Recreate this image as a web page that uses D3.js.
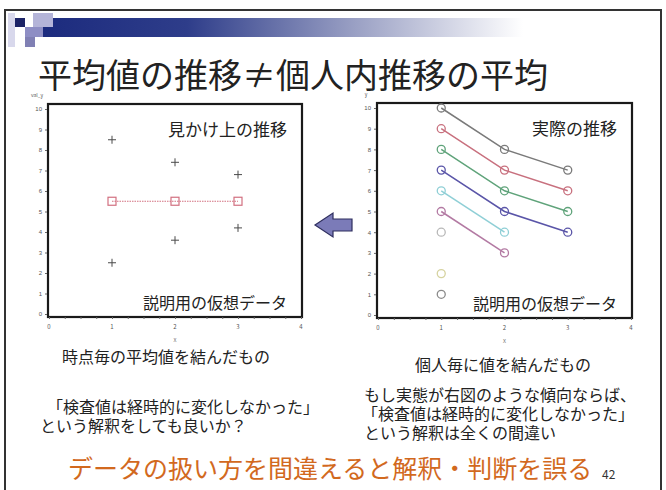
<!DOCTYPE html>
<html>
<head>
<meta charset="utf-8">
<script src="https://cdn.jsdelivr.net/npm/d3@7"></script>
<style>
  body { margin: 0; background: #fff; }
  svg { display: block; font-family: "Noto Sans CJK JP", "Noto Sans", sans-serif; }
</style>
</head>
<body>
<div id="slide"></div>
<script>
'use strict';

// tick labels
var xTicks = [0, 1, 2, 3, 4];
var yTicks = [0, 1, 2, 3, 4, 5, 6, 7, 8, 9, 10];

// left panel: observed values per time point, and their mean
var times = [1, 2, 3];
var upperObs = [8.5, 7.4, 6.8];
var lowerObs = [2.5, 3.6, 4.2];
var meanObs = [5.5, 5.5, 5.5];

// right panel: one series per individual
var personA = [10, 8, 7];
var personB = [9, 7, 6];
var personC = [8, 6, 5];
var personD = [7, 5, 4];
var personE = [6, 4];
var personF = [5, 3];
var personG = [4];
var personH = [2];
var personI = [1];
var persons = [personA, personB, personC, personD, personE, personF, personG, personH, personI];
var personColors = ['#7a7a7a', '#c8707e', '#5fa37a', '#5a55a8', '#8fcfd6', '#b37aa3', '#b8b8b8', '#d6d3a0', '#8a8a8a'];

var W = 666, H = 490;

var svg = d3.select('#slide')
    .append('svg')
    .attr('width', W)
    .attr('height', H);

// header decoration
var grad = svg.append('defs').append('linearGradient')
    .attr('id', 'bar').attr('x1', '0%').attr('x2', '100%');
grad.append('stop').attr('offset', '0%').attr('stop-color', '#1c2b7e');
grad.append('stop').attr('offset', '30%').attr('stop-color', '#2e3d8a');
grad.append('stop').attr('offset', '65%').attr('stop-color', '#9aa0c4');
grad.append('stop').attr('offset', '100%').attr('stop-color', '#ffffff');

svg.append('rect').attr('x', 43).attr('y', 18).attr('width', 480).attr('height', 19).attr('fill', 'url(#bar)');

var blocks = [
    { x: 8, y: 13, w: 7, h: 34, c: '#d8d8ec' },
    { x: 33, y: 13, w: 20, h: 14, c: '#b4b4d8' },
    { x: 25, y: 27, w: 18, h: 10, c: '#8e8ec4' },
    { x: 25, y: 37, w: 10, h: 10, c: '#8080b4' },
    { x: 15, y: 18, w: 10, h: 9, c: '#1c2366' }
];
svg.selectAll('.block')
    .data(blocks)
    .enter().append('rect')
    .attr('class', 'block')
    .attr('x', function (d) { return d.x; })
    .attr('y', function (d) { return d.y; })
    .attr('width', function (d) { return d.w; })
    .attr('height', function (d) { return d.h; })
    .attr('fill', function (d) { return d.c; });

// slide frame
svg.append('rect')
    .attr('x', 5).attr('y', 10).attr('width', 656).attr('height', 490)
    .attr('fill', 'none').attr('stroke', '#333').attr('stroke-width', 2);

svg.append('text')
    .attr('x', 38).attr('y', 88)
    .attr('font-size', 34)
    .attr('fill', '#222')
    .text('平均値の推移≠個人内推移の平均');

function panel(opt) {
    var x = d3.scaleLinear().domain([0, 4]).range([opt.x0, opt.x1]);
    var y = d3.scaleLinear().domain([0, 10]).range([opt.y0, opt.y1]);
    var g = svg.append('g');

    g.append('rect')
        .attr('x', opt.x0 - 1).attr('y', opt.y1 - 5)
        .attr('width', opt.x1 - opt.x0 + 2).attr('height', opt.y0 - opt.y1 + 8)
        .attr('fill', 'none').attr('stroke', '#1a1a1a').attr('stroke-width', 2.2);

    var xAxis = d3.axisBottom(x).tickValues(d3.range(0, 4.01, 0.25)).tickSize(2).tickFormat('');
    g.append('g')
        .attr('transform', 'translate(0,' + (opt.y0 + 3) + ')')
        .call(xAxis)
        .call(function (a) { a.select('.domain').remove(); a.selectAll('line').attr('stroke', '#666'); });

    g.selectAll('.xl')
        .data(xTicks)
        .enter().append('text')
        .attr('x', function (d) { return x(d); })
        .attr('y', opt.y0 + 15)
        .attr('text-anchor', 'middle')
        .attr('font-size', 6)
        .attr('fill', '#555')
        .text(function (d) { return d; });

    var yAxis = d3.axisLeft(y).tickValues(yTicks).tickSize(2).tickPadding(3);
    g.append('g')
        .attr('transform', 'translate(' + (opt.x0 - 2) + ',0)')
        .call(yAxis)
        .call(function (a) {
            a.select('.domain').remove();
            a.selectAll('line').attr('stroke', '#666');
            a.selectAll('text').attr('font-size', 6).attr('fill', '#555');
        });

    g.append('text')
        .attr('x', opt.x0 - 12).attr('y', opt.y1 - 12)
        .attr('text-anchor', 'middle').attr('font-size', 5).attr('fill', '#555')
        .text(opt.yTitle);
    g.append('text')
        .attr('x', x(2)).attr('y', opt.y0 + 28)
        .attr('text-anchor', 'middle').attr('font-size', 6).attr('fill', '#777')
        .text('x');

    g.append('text')
        .attr('x', opt.x1 - 14).attr('y', opt.y1 + 27)
        .attr('text-anchor', 'end').attr('font-size', 17).attr('fill', '#222')
        .text(opt.top);
    g.append('text')
        .attr('x', opt.x1 - 14).attr('y', opt.y0 - 5)
        .attr('text-anchor', 'end').attr('font-size', 16).attr('fill', '#222')
        .text('説明用の仮想データ');

    return { g: g, x: x, y: y };
}

// left panel
var L = panel({ x0: 49, x1: 301, y0: 314, y1: 109, yTitle: 'val_y', top: '見かけ上の推移' });

[upperObs, lowerObs].forEach(function (s) {
    L.g.selectAll(null)
        .data(s)
        .enter().append('path')
        .attr('d', 'M-4,0H4M0,-4V4')
        .attr('transform', function (d, i) { return 'translate(' + L.x(times[i]) + ',' + L.y(d) + ')'; })
        .attr('stroke', '#4a4a4a').attr('stroke-width', 1).attr('fill', 'none');
});

L.g.append('path')
    .datum(meanObs)
    .attr('d', d3.line().x(function (d, i) { return L.x(times[i]); }).y(function (d) { return L.y(d); }))
    .attr('fill', 'none').attr('stroke', '#d27080').attr('stroke-width', 1.2).attr('stroke-dasharray', '1.5,1');

L.g.selectAll('.mean')
    .data(meanObs)
    .enter().append('rect')
    .attr('x', function (d, i) { return L.x(times[i]) - 4; })
    .attr('y', function (d) { return L.y(d) - 4; })
    .attr('width', 8).attr('height', 8)
    .attr('fill', 'none').attr('stroke', '#d27080').attr('stroke-width', 1.2);

// right panel
var R = panel({ x0: 378, x1: 631, y0: 315, y1: 108, yTitle: 'y', top: '実際の推移' });

var line = d3.line().x(function (d, i) { return R.x(times[i]); }).y(function (d) { return R.y(d); });

persons.forEach(function (s, k) {
    var c = personColors[k];
    if (s.length > 1) {
        R.g.append('path').datum(s)
            .attr('d', line)
            .attr('fill', 'none').attr('stroke', c).attr('stroke-width', 1.5);
    }
    R.g.selectAll(null)
        .data(s)
        .enter().append('circle')
        .attr('cx', function (d, i) { return R.x(times[i]); })
        .attr('cy', function (d) { return R.y(d); })
        .attr('r', 4)
        .attr('fill', 'none').attr('stroke', c).attr('stroke-width', 1.3);
});

// arrow
svg.append('path')
    .attr('d', 'M315,225 L333,213 L333,219 L352,219 L352,231 L333,231 L333,237 Z')
    .attr('fill', '#7b7bb8').attr('stroke', '#2e2e5e').attr('stroke-width', 1.2);

// captions: each block is one text, lines as tspans
var captions = [
    { x: 62, y: 363, lines: [{ dx: 0, t: '時点毎の平均値を結んだもの' }] },
    { x: 415, y: 371, lines: [{ dx: 0, t: '個人毎に値を結んだもの' }] },
    { x: 40, y: 413, lines: [{ dx: 7, t: '「検査値は経時的に変化しなかった」' }, { dx: 0, t: 'という解釈をしても良いか？' }] },
    { x: 364, y: 401, lines: [{ dx: 0, t: 'もし実態が右図のような傾向ならば、' }, { dx: -2, t: '「検査値は経時的に変化しなかった」' }, { dx: 0, t: 'という解釈は全くの間違い' }] }
];
captions.forEach(function (c) {
    var t = svg.append('text')
        .attr('class', 'cap')
        .attr('y', c.y)
        .attr('font-size', 16)
        .attr('fill', '#222');
    t.selectAll('tspan')
        .data(c.lines)
        .enter().append('tspan')
        .attr('x', function (d) { return c.x + d.dx; })
        .attr('dy', function (d, i) { return i === 0 ? 0 : 19; })
        .text(function (d) { return d.t; });
});

svg.append('text')
    .attr('x', 68).attr('y', 478)
    .attr('font-size', 25).attr('fill', '#d2691e')
    .text('データの扱い方を間違えると解釈・判断を誤る');
svg.append('text')
    .attr('x', 602).attr('y', 479)
    .attr('font-size', 12).attr('fill', '#333')
    .text('42');
</script>
</body>
</html>
